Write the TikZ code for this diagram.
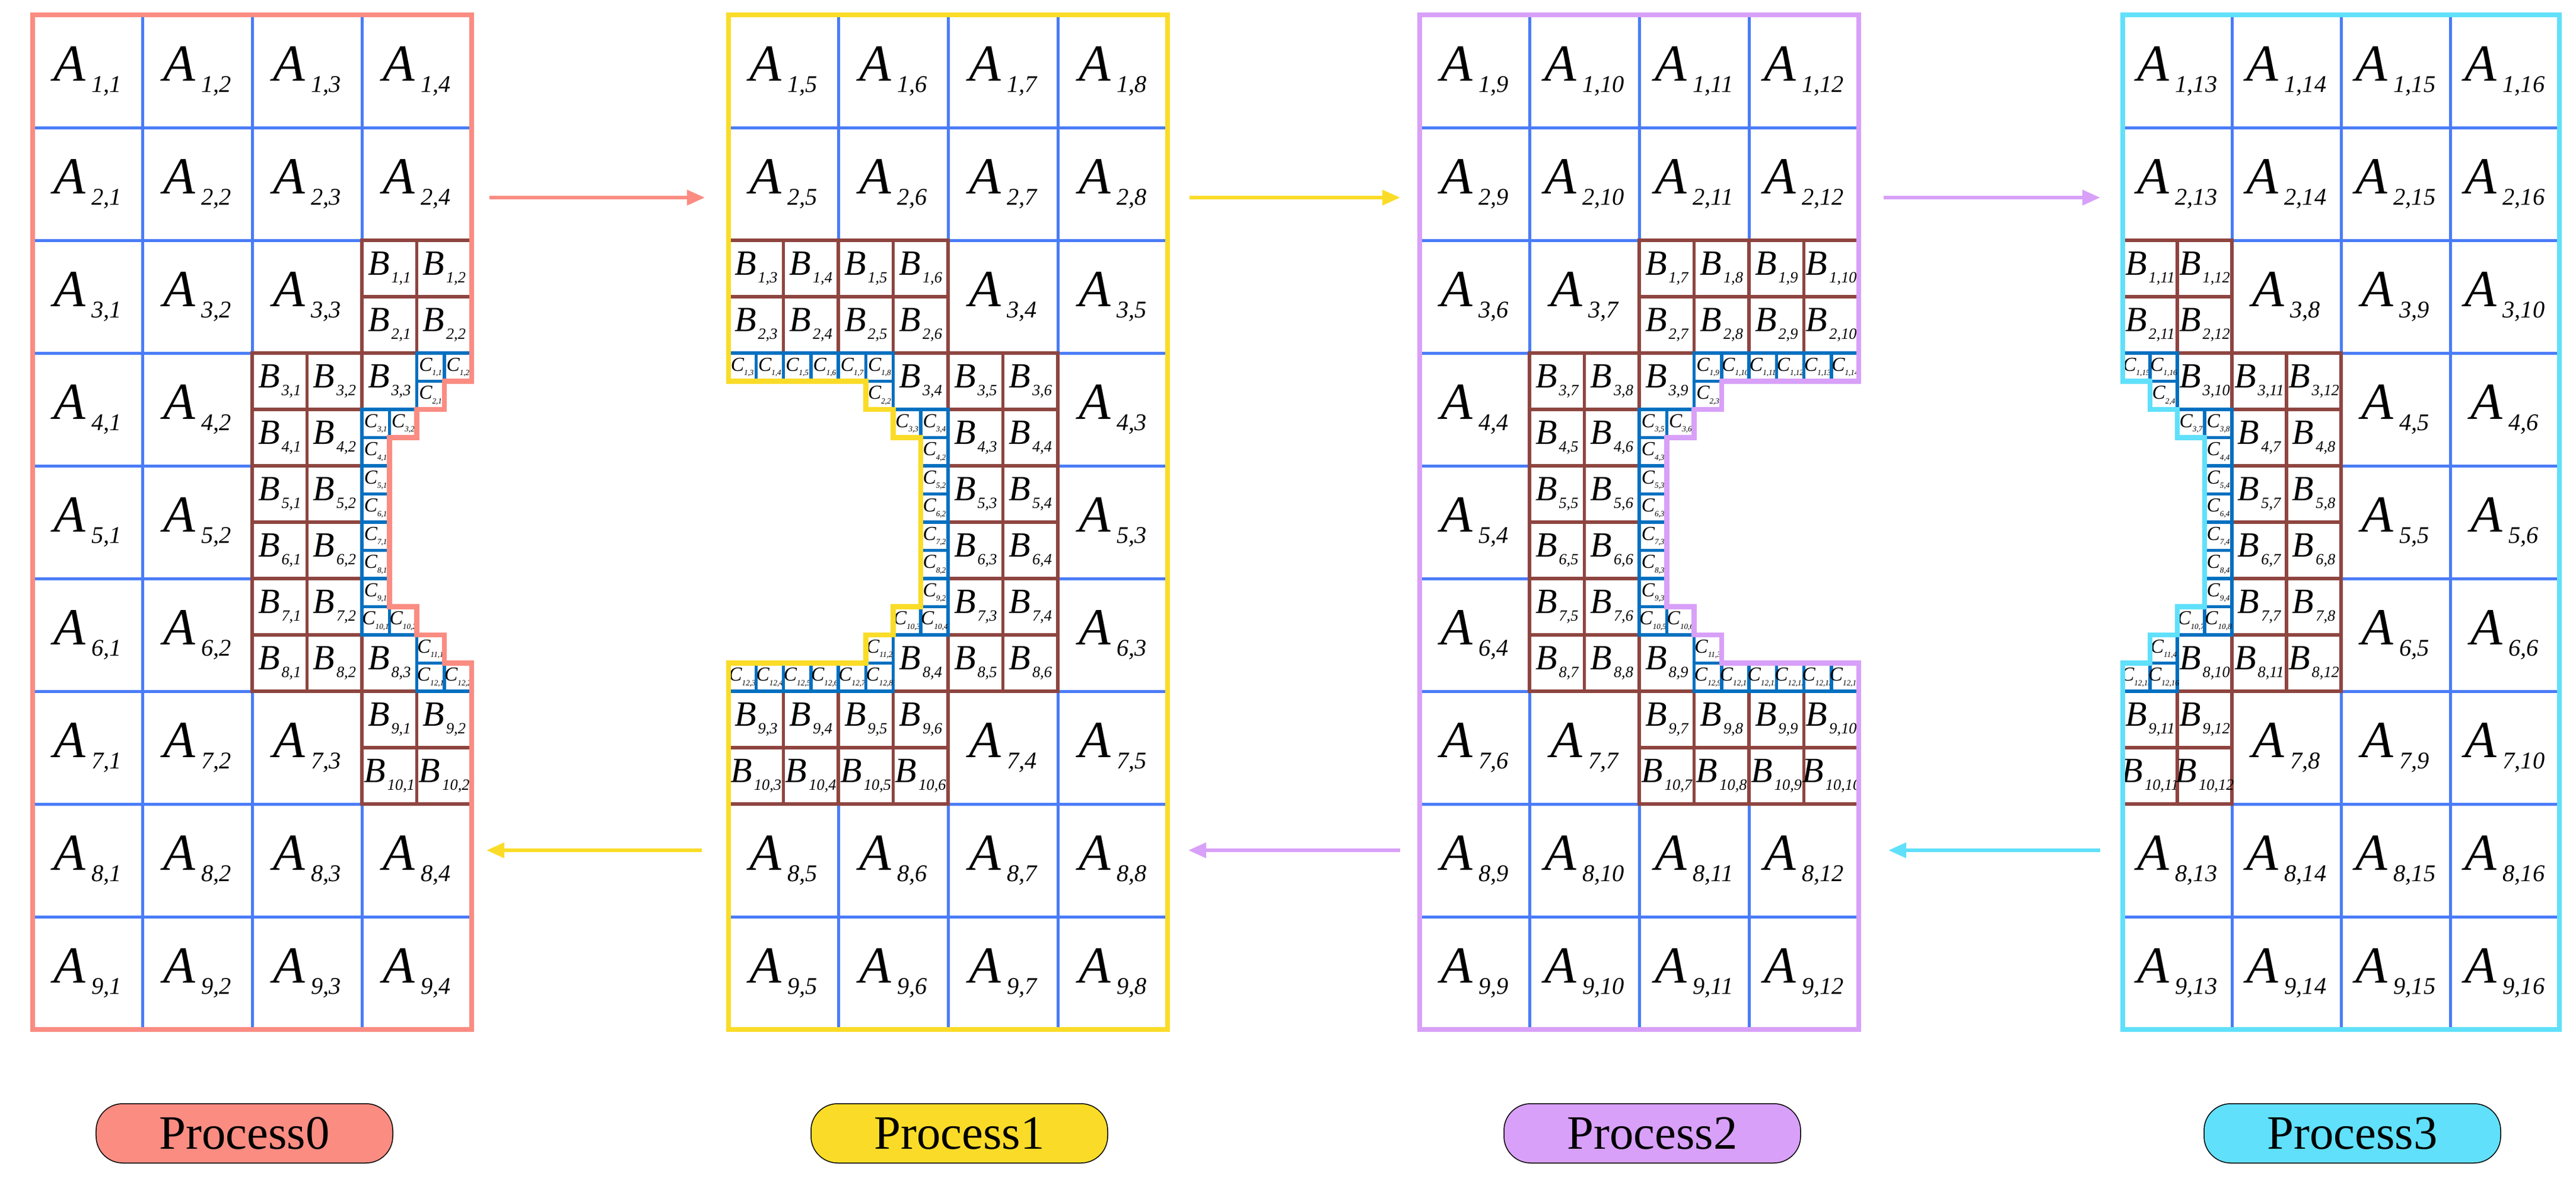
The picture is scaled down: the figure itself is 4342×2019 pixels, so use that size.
\documentclass[tikz,border=0pt]{standalone}
\usepackage{fontspec}
\setmainfont{Liberation Serif}
\usetikzlibrary{arrows.meta}
\definecolor{pk}{RGB}{250,140,130}
\definecolor{yl}{RGB}{250,220,40}
\definecolor{pu}{RGB}{216,160,248}
\definecolor{cy}{RGB}{96,224,250}
\definecolor{ag}{RGB}{74,124,248}
\definecolor{bb}{RGB}{142,69,64}
\definecolor{cb}{RGB}{0,112,192}
\newcommand\Alab[1]{{\fontsize{50}{50}\selectfont\itshape A}\hspace{2mm}\raisebox{-3.8mm}{\fontsize{23}{23}\selectfont\itshape #1}}
\newcommand\Blab[1]{{\fontsize{34}{34}\selectfont\itshape B}\hspace{0.6mm}\raisebox{-2.6mm}{\fontsize{15}{15}\selectfont\itshape #1}}
\newcommand\Clab[1]{{\fontsize{19}{19}\selectfont\itshape C}\raisebox{-1.5mm}{\fontsize{7.5}{7.5}\selectfont\itshape #1}}
\newcommand\Ac[3]{\draw[agrid] ({#1},{#2}) rectangle ++(4,4); \node[lbl] at ({#1+2},{#2+2}) {\Alab{#3}};}
\newcommand\Bc[3]{\draw[bgrid] ({#1},{#2}) rectangle ++(2,2); \node[lbl] at ({#1+1},{#2+1}) {\Blab{#3}};}
\newcommand\Cc[3]{\draw[cgrid] ({#1},{#2}) rectangle ++(1,1); \node[lbl] at ({#1+0.5},{#2+0.5}) {\Clab{#3}};}
\begin{document}
\begin{tikzpicture}[x=0.2mm,y=-0.2mm,
  agrid/.style={draw=ag,line width=1mm},
  bgrid/.style={draw=bb,line width=1.1mm},
  cgrid/.style={draw=cb,line width=1.1mm},
  lbl/.style={inner sep=0pt},
  outl/.style={line width=1.7mm,line join=miter},
  arr/.style={line width=1.2mm,-{Triangle[length=6mm,width=5mm]}},
  proc/.style={draw=black,line width=0.3mm,rounded corners=9mm,minimum width=100mm,minimum height=20mm,font=\fontsize{46}{46}\selectfont}]
\useasboundingbox (0,0) rectangle (4342,2019);
\fill[white] (0,0) rectangle (4342,2019);
% ---------- Panel 0 ----------
\begin{scope}[shift={(55,25)},x=9.25mm,y=-9.5mm]
\foreach \r in {1,2,8,9}{\foreach \c in {1,...,4}{\Ac{4*(\c-1)}{4*(\r-1)}{\r,\c}}}
\foreach \c in {1,2,3}{\Ac{4*(\c-1)}{8}{3,\c}\Ac{4*(\c-1)}{24}{7,\c}}
\foreach \r in {4,5,6}{\foreach \c in {1,2}{\Ac{4*(\c-1)}{4*(\r-1)}{\r,\c}}}
\Bc{12}{8}{1,1}\Bc{14}{8}{1,2}\Bc{12}{10}{2,1}\Bc{14}{10}{2,2}
\Bc{8}{12}{3,1}\Bc{10}{12}{3,2}\Bc{12}{12}{3,3}
\foreach \k in {4,...,7}{\Bc{8}{12+2*(\k-3)}{\k,1}\Bc{10}{12+2*(\k-3)}{\k,2}}
\Bc{8}{22}{8,1}\Bc{10}{22}{8,2}\Bc{12}{22}{8,3}
\Bc{12}{24}{9,1}\Bc{14}{24}{9,2}\Bc{12}{26}{10,1}\Bc{14}{26}{10,2}
\Cc{14}{12}{1,1}\Cc{15}{12}{1,2}\Cc{14}{13}{2,1}\Cc{12}{14}{3,1}\Cc{13}{14}{3,2}
\foreach \k in {4,...,9}{\Cc{12}{11+\k}{\k,1}}
\Cc{12}{21}{10,1}\Cc{13}{21}{10,2}\Cc{14}{22}{11,1}\Cc{14}{23}{12,1}\Cc{15}{23}{12,2}
\draw[outl,pk] (0,0)--(16,0)--(16,13)--(15,13)--(15,14)--(14,14)--(14,15)--(13,15)--(13,21)--(14,21)--(14,22)--(15,22)--(15,23)--(16,23)--(16,36)--(0,36)--cycle;
\end{scope}
% ---------- Panel 1 ----------
\begin{scope}[shift={(1228,25)},x=9.25mm,y=-9.5mm]
\foreach \r in {1,2,8,9}{\foreach \c [evaluate=\c as \l using int(\c+4)] in {1,...,4}{\Ac{4*(\c-1)}{4*(\r-1)}{\r,\l}}}
\Ac{8}{8}{3,4}\Ac{12}{8}{3,5}\Ac{8}{24}{7,4}\Ac{12}{24}{7,5}
\foreach \r in {4,5,6}{\Ac{12}{4*(\r-1)}{\r,3}}
\foreach \j in {3,...,6}{\Bc{2*(\j-3)}{8}{1,\j}\Bc{2*(\j-3)}{10}{2,\j}\Bc{2*(\j-3)}{24}{9,\j}\Bc{2*(\j-3)}{26}{10,\j}}
\Bc{6}{12}{3,4}\Bc{8}{12}{3,5}\Bc{10}{12}{3,6}
\foreach \k in {4,...,7}{\Bc{8}{12+2*(\k-3)}{\k,3}\Bc{10}{12+2*(\k-3)}{\k,4}}
\Bc{6}{22}{8,4}\Bc{8}{22}{8,5}\Bc{10}{22}{8,6}
\foreach \j in {3,...,8}{\Cc{\j-3}{12}{1,\j}\Cc{\j-3}{23}{12,\j}}
\Cc{5}{13}{2,2}\Cc{6}{14}{3,3}\Cc{7}{14}{3,4}
\foreach \k in {4,...,9}{\Cc{7}{11+\k}{\k,2}}
\Cc{6}{21}{10,3}\Cc{7}{21}{10,4}\Cc{5}{22}{11,2}
\draw[outl,yl] (0,0)--(16,0)--(16,36)--(0,36)--(0,23)--(5,23)--(5,22)--(6,22)--(6,21)--(7,21)--(7,15)--(6,15)--(6,14)--(5,14)--(5,13)--(0,13)--cycle;
\end{scope}
% ---------- Panel 2 ----------
\begin{scope}[shift={(2393,25)},x=9.25mm,y=-9.5mm]
\foreach \r in {1,2,8,9}{\foreach \c [evaluate=\c as \l using int(\c+8)] in {1,...,4}{\Ac{4*(\c-1)}{4*(\r-1)}{\r,\l}}}
\Ac{0}{8}{3,6}\Ac{4}{8}{3,7}\Ac{0}{24}{7,6}\Ac{4}{24}{7,7}
\foreach \r in {4,5,6}{\Ac{0}{4*(\r-1)}{\r,4}}
\foreach \j in {7,...,10}{\Bc{8+2*(\j-7)}{8}{1,\j}\Bc{8+2*(\j-7)}{10}{2,\j}\Bc{8+2*(\j-7)}{24}{9,\j}\Bc{8+2*(\j-7)}{26}{10,\j}}
\Bc{4}{12}{3,7}\Bc{6}{12}{3,8}\Bc{8}{12}{3,9}
\foreach \k in {4,...,7}{\Bc{4}{12+2*(\k-3)}{\k,5}\Bc{6}{12+2*(\k-3)}{\k,6}}
\Bc{4}{22}{8,7}\Bc{6}{22}{8,8}\Bc{8}{22}{8,9}
\foreach \j in {9,...,14}{\Cc{\j+1}{12}{1,\j}\Cc{\j+1}{23}{12,\j}}
\Cc{10}{13}{2,3}\Cc{8}{14}{3,5}\Cc{9}{14}{3,6}
\foreach \k in {4,...,9}{\Cc{8}{11+\k}{\k,3}}
\Cc{8}{21}{10,5}\Cc{9}{21}{10,6}\Cc{10}{22}{11,3}
\draw[outl,pu] (0,0)--(16,0)--(16,13)--(11,13)--(11,14)--(10,14)--(10,15)--(9,15)--(9,21)--(10,21)--(10,22)--(11,22)--(11,23)--(16,23)--(16,36)--(0,36)--cycle;
\end{scope}
% ---------- Panel 3 ----------
\begin{scope}[shift={(3578,25)},x=9.2mm,y=-9.5mm]
\foreach \r in {1,2,8,9}{\foreach \c [evaluate=\c as \l using int(\c+12)] in {1,...,4}{\Ac{4*(\c-1)}{4*(\r-1)}{\r,\l}}}
\Ac{4}{8}{3,8}\Ac{8}{8}{3,9}\Ac{12}{8}{3,10}\Ac{4}{24}{7,8}\Ac{8}{24}{7,9}\Ac{12}{24}{7,10}
\foreach \r in {4,5,6}{\Ac{8}{4*(\r-1)}{\r,5}\Ac{12}{4*(\r-1)}{\r,6}}
\Bc{0}{8}{1,11}\Bc{2}{8}{1,12}\Bc{0}{10}{2,11}\Bc{2}{10}{2,12}
\Bc{2}{12}{3,10}\Bc{4}{12}{3,11}\Bc{6}{12}{3,12}
\foreach \k in {4,...,7}{\Bc{4}{12+2*(\k-3)}{\k,7}\Bc{6}{12+2*(\k-3)}{\k,8}}
\Bc{2}{22}{8,10}\Bc{4}{22}{8,11}\Bc{6}{22}{8,12}
\Bc{0}{24}{9,11}\Bc{2}{24}{9,12}\Bc{0}{26}{10,11}\Bc{2}{26}{10,12}
\Cc{0}{12}{1,15}\Cc{1}{12}{1,16}\Cc{1}{13}{2,4}\Cc{2}{14}{3,7}\Cc{3}{14}{3,8}
\foreach \k in {4,...,9}{\Cc{3}{11+\k}{\k,4}}
\Cc{2}{21}{10,7}\Cc{3}{21}{10,8}\Cc{1}{22}{11,4}\Cc{0}{23}{12,15}\Cc{1}{23}{12,16}
\draw[outl,cy] (0,0)--(16,0)--(16,36)--(0,36)--(0,23)--(1,23)--(1,22)--(2,22)--(2,21)--(3,21)--(3,15)--(2,15)--(2,14)--(1,14)--(1,13)--(0,13)--cycle;
\end{scope}
% ---------- arrows ----------
\coordinate (t0) at (825,333); \coordinate (t1) at (1188,333);
\coordinate (t2) at (2005,333); \coordinate (t3) at (2360,333);
\coordinate (t4) at (3175,333); \coordinate (t5) at (3540,333);
\coordinate (b0) at (820,1433); \coordinate (b1) at (1183,1433);
\coordinate (b2) at (2003,1433); \coordinate (b3) at (2360,1433);
\coordinate (b4) at (3183,1433); \coordinate (b5) at (3540,1433);
\draw[arr,pk] (t0)--(t1);
\draw[arr,yl] (t2)--(t3);
\draw[arr,pu] (t4)--(t5);
\draw[arr,yl] (b1)--(b0);
\draw[arr,pu] (b3)--(b2);
\draw[arr,cy] (b5)--(b4);
% ---------- process labels ----------
\node[proc,fill=pk] (p0) at (412,1910) {Process0};
\node[proc,fill=yl] (p1) at (1617,1910) {Process1};
\node[proc,fill=pu] (p2) at (2785,1910) {Process2};
\node[proc,fill=cy] (p3) at (3965,1910) {Process3};
\end{tikzpicture}
\end{document}
